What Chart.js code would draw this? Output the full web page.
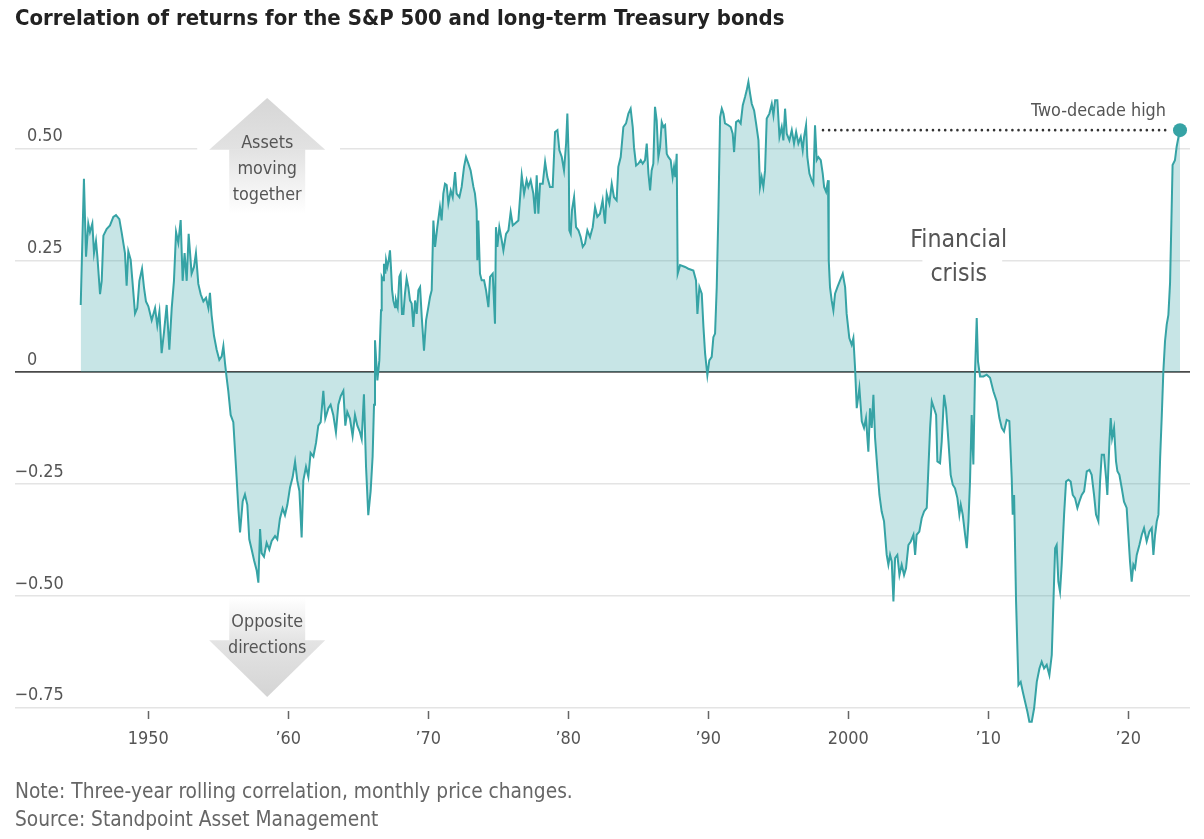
<!DOCTYPE html>
<html>
<head>
<meta charset="utf-8">
<script src="https://cdn.jsdelivr.net/npm/chart.js@4.4.1/dist/chart.umd.min.js"></script>
<style>
html,body{margin:0;padding:0;background:#fff;}
#wrap{width:1204px;height:839px;position:relative;}
</style>
</head>
<body>
<div id="wrap"><canvas id="c" width="1204" height="839"></canvas></div>
<script>
// ---------- DATA (three-year rolling correlation) ----------
const yearsA = [
1945.18,1945.41,1945.56,1945.72,1945.84,1946.01,1946.13,1946.27,1946.37,1946.56,
1946.68,1946.80,1947.03,1947.27,1947.51,1947.70,1947.94,1948.10,1948.34,1948.46,
1948.58,1948.75,1948.89,1949.06,1949.22,1949.37,1949.56,1949.70,1949.84,1950.01,
1950.25,1950.49,1950.65,1950.80,1950.96,1951.13,1951.32,1951.51,1951.68,1951.84,
1951.99,1952.15,1952.32,1952.46,1952.60,1952.75,1952.89,1953.10,1953.27,1953.41,
1953.58,1953.75,1953.94,1954.13,1954.30,1954.41,1954.53,1954.70,1954.89,1955.08,
1955.25,1955.37,1955.49,1955.60,1955.72,1955.89,1956.08,1956.27,1956.44,1956.56,
1956.75,1956.91,1957.08,1957.22,1957.39,1957.56,1957.75,1957.87,1957.99,1958.10,
1958.27,1958.46,1958.65,1958.82,1959.06,1959.22,1959.41,1959.60,1959.77,1959.94,
1960.13,1960.32,1960.49,1960.65,1960.80,1960.96,1961.08,1961.27,1961.44,1961.60,
1961.80,1961.99,1962.15,1962.32,1962.51,1962.65,1962.87,1963.03,1963.22,1963.41,
1963.58,1963.75,1963.94,1964.08,1964.22,1964.41,1964.60,1964.77,1964.94,1965.13,
1965.25,1965.41,1965.56,1965.72,1965.89,1966.03,1966.13];
const corrA = [
0.150,0.432,0.258,0.332,0.313,0.332,0.266,0.293,0.258,0.174,
0.204,0.305,0.320,0.328,0.347,0.351,0.342,0.313,0.266,0.193,
0.270,0.251,0.197,0.131,0.143,0.204,0.231,0.189,0.158,0.147,
0.116,0.143,0.104,0.135,0.042,0.089,0.150,0.050,0.143,0.204,
0.313,0.289,0.340,0.204,0.266,0.204,0.309,0.220,0.235,0.266,
0.197,0.174,0.158,0.166,0.143,0.177,0.127,0.081,0.050,0.027,
0.035,0.058,0.019,-0.012,-0.042,-0.096,-0.112,-0.212,-0.305,-0.359,
-0.289,-0.274,-0.297,-0.374,-0.397,-0.421,-0.444,-0.471,-0.351,-0.405,
-0.413,-0.382,-0.397,-0.378,-0.367,-0.374,-0.328,-0.305,-0.320,-0.297,
-0.258,-0.235,-0.201,-0.243,-0.266,-0.370,-0.243,-0.212,-0.235,-0.181,
-0.189,-0.158,-0.120,-0.112,-0.042,-0.104,-0.081,-0.073,-0.096,-0.135,
-0.073,-0.054,-0.042,-0.120,-0.089,-0.104,-0.143,-0.096,-0.120,-0.135,
-0.150,-0.050,-0.212,-0.320,-0.266,-0.189,-0.073];

const yearsB = [
1966.20,1966.37,1966.51,1966.63,1966.68,1966.80,1966.84,1966.94,1966.99,1967.08,
1967.18,1967.27,1967.34,1967.42,1967.51,1967.63,1967.70,1967.82,1967.94,1968.03,
1968.13,1968.23,1968.34,1968.46,1968.58,1968.70,1968.82,1968.94,1969.06,1969.18,
1969.30,1969.42,1969.54,1969.70,1969.85,1970.01,1970.13,1970.25,1970.37,1970.49,
1970.65,1970.84,1970.96,1971.08,1971.20,1971.32,1971.44,1971.61,1971.75,1971.92,
1972.03,1972.23,1972.39,1972.56,1972.70,1972.87,1973.03,1973.23,1973.34,1973.46,
1973.51,1973.58,1973.70,1973.82,1973.99,1974.13,1974.30,1974.42,1974.61,1974.77,
1974.84,1974.94,1975.08,1975.25,1975.37,1975.56,1975.73,1975.89,1976.04,1976.20,
1976.44,1976.68,1976.85,1977.03,1977.15,1977.32,1977.51,1977.63,1977.75,1977.87,
1977.99,1978.18,1978.35,1978.51,1978.70,1978.89,1979.06,1979.23,1979.37,1979.54,
1979.70,1979.85,1979.94,1980.04,1980.08,1980.18,1980.27,1980.42,1980.56,1980.73,
1980.89,1981.04,1981.20,1981.37,1981.56,1981.75,1981.92,1982.08,1982.27,1982.46,
1982.63,1982.75,1982.94,1983.11,1983.27,1983.46,1983.58,1983.75,1983.94,1984.13,
1984.30,1984.46,1984.61,1984.70,1984.85,1985.01,1985.18,1985.32,1985.49,1985.61,
1985.73,1985.85,1985.96,1986.08,1986.20,1986.32,1986.44,1986.56,1986.68,1986.80,
1986.92,1987.04,1987.15,1987.32,1987.46,1987.56,1987.65,1987.75,1987.82];
const corrB = [
0.071,-0.019,0.026,0.138,0.213,0.205,0.242,0.220,0.250,0.235,
0.250,0.272,0.235,0.183,0.160,0.145,0.160,0.145,0.213,0.220,
0.130,0.130,0.175,0.209,0.190,0.160,0.153,0.101,0.160,0.130,
0.183,0.190,0.123,0.048,0.116,0.145,0.168,0.183,0.339,0.280,
0.324,0.369,0.339,0.399,0.421,0.418,0.377,0.406,0.391,0.447,
0.399,0.391,0.414,0.459,0.481,0.466,0.451,0.414,0.399,0.362,
0.250,0.339,0.220,0.205,0.205,0.183,0.145,0.213,0.220,0.108,
0.324,0.280,0.324,0.295,0.272,0.309,0.317,0.358,0.328,0.332,
0.339,0.440,0.399,0.429,0.414,0.429,0.399,0.354,0.440,0.354,
0.421,0.421,0.470,0.436,0.414,0.414,0.537,0.541,0.496,0.481,
0.451,0.511,0.578,0.474,0.317,0.309,0.362,0.391,0.324,0.317,
0.302,0.280,0.287,0.317,0.302,0.324,0.369,0.347,0.354,0.384,
0.332,0.399,0.377,0.421,0.391,0.384,0.459,0.481,0.548,0.556,
0.578,0.589,0.548,0.503,0.462,0.466,0.474,0.466,0.474,0.511,
0.444,0.406,0.451,0.466,0.593,0.563,0.481,0.503,0.559,0.548,
0.552,0.488,0.481,0.474,0.436,0.459,0.436,0.488,0.220];

const yearsC = [
1987.99,1988.35,1988.58,1988.94,1989.13,1989.23,1989.37,1989.54,1989.66,1989.78,
1989.94,1990.08,1990.25,1990.37,1990.49,1990.61,1990.73,1990.85,1990.97,1991.09,
1991.20,1991.44,1991.61,1991.75,1991.85,1991.99,1992.16,1992.32,1992.47,1992.63,
1992.75,1992.87,1992.99,1993.11,1993.28,1993.42,1993.59,1993.70,1993.82,1993.94,
1994.06,1994.18,1994.37,1994.54,1994.66,1994.78,1994.94,1995.09,1995.25,1995.37,
1995.49,1995.61,1995.80,1995.97,1996.13,1996.28,1996.44,1996.61,1996.75,1996.85,
1996.99,1997.08,1997.23,1997.39,1997.51,1997.63,1997.75,1997.87,1998.04,1998.18,
1998.28,1998.42,1998.56,1998.61,1998.70,1998.82,1998.94,1999.06,1999.23,1999.42,
1999.61,1999.78,1999.89];
const corrC = [
0.239,0.235,0.231,0.227,0.205,0.130,0.190,0.175,0.101,0.041,
-0.007,0.026,0.034,0.078,0.086,0.190,0.362,0.570,0.589,0.578,
0.556,0.552,0.548,0.533,0.492,0.559,0.563,0.556,0.597,0.615,
0.630,0.649,0.623,0.600,0.585,0.556,0.518,0.414,0.436,0.414,
0.451,0.567,0.578,0.600,0.574,0.608,0.608,0.526,0.548,0.518,
0.589,0.533,0.518,0.541,0.511,0.537,0.511,0.526,0.496,0.526,
0.552,0.481,0.444,0.429,0.421,0.552,0.474,0.481,0.474,0.444,
0.414,0.403,0.429,0.250,0.190,0.160,0.138,0.175,0.190,0.205,
0.220,0.190,0.130];

const yearsD = [
2000.08,2000.25,2000.37,2000.49,2000.61,2000.80,2000.97,2001.13,2001.27,2001.44,
2001.56,2001.68,2001.80,2001.92,2002.08,2002.23,2002.39,2002.56,2002.75,2002.87,
2002.99,2003.11,2003.23,2003.35,2003.51,2003.66,2003.82,2003.99,2004.13,2004.30,
2004.47,2004.66,2004.78,2004.89,2005.08,2005.25,2005.42,2005.61,2005.73,2005.85,
2005.97,2006.13,2006.28,2006.37,2006.56,2006.68,2006.85,2006.99,2007.16,2007.32,
2007.47,2007.63,2007.80,2007.94,2008.04,2008.18,2008.35,2008.47,2008.59,2008.70,
2008.82,2008.94,2009.06,2009.18,2009.27,2009.42,2009.66,2009.89,2010.13,2010.37,
2010.61,2010.80,2010.97,2011.13,2011.32,2011.51,2011.68,2011.75,2011.85,2011.99,
2012.16,2012.32,2012.47,2012.63,2012.80,2012.94,2013.11,2013.28,2013.47,2013.66,
2013.82,2013.99,2014.18,2014.37,2014.54,2014.66,2014.78,2014.89,2015.01,2015.13,
2015.25,2015.42,2015.56,2015.73,2015.89,2016.04,2016.20,2016.37,2016.51,2016.68,
2016.85,2017.04,2017.23,2017.39,2017.56,2017.70,2017.87,2017.99,2018.11,2018.27,
2018.42,2018.51,2018.66,2018.75,2018.85,2018.99,2019.13,2019.23,2019.37,2019.54,
2019.70,2019.89,2020.01,2020.13,2020.25,2020.37,2020.49,2020.61,2020.80,2020.97,
2021.13,2021.32,2021.51,2021.68,2021.80,2021.92,2022.04,2022.16,2022.28,2022.40,
2022.51,2022.63,2022.75,2022.87,2022.99,2023.08,2023.17,2023.34,2023.46,2023.62,
2023.70];
const corrD = [
0.076,0.061,0.076,0.009,-0.081,-0.036,-0.110,-0.125,-0.103,-0.178,
-0.081,-0.125,-0.051,-0.148,-0.215,-0.275,-0.312,-0.334,-0.409,-0.431,
-0.409,-0.424,-0.513,-0.416,-0.409,-0.454,-0.431,-0.454,-0.439,-0.387,
-0.379,-0.364,-0.409,-0.364,-0.357,-0.327,-0.312,-0.304,-0.215,-0.125,
-0.066,-0.081,-0.096,-0.200,-0.204,-0.155,-0.051,-0.081,-0.155,-0.230,
-0.252,-0.260,-0.282,-0.319,-0.297,-0.319,-0.364,-0.394,-0.334,-0.245,
-0.096,-0.207,0.001,0.121,0.024,-0.010,-0.010,-0.006,-0.013,-0.043,
-0.066,-0.103,-0.125,-0.133,-0.107,-0.110,-0.237,-0.319,-0.275,-0.513,
-0.700,-0.693,-0.715,-0.737,-0.760,-0.782,-0.782,-0.752,-0.693,-0.663,
-0.648,-0.663,-0.655,-0.678,-0.633,-0.513,-0.394,-0.387,-0.469,-0.491,
-0.431,-0.319,-0.245,-0.241,-0.245,-0.275,-0.282,-0.304,-0.290,-0.275,
-0.267,-0.222,-0.219,-0.230,-0.275,-0.319,-0.334,-0.245,-0.185,-0.185,
-0.237,-0.275,-0.155,-0.103,-0.148,-0.125,-0.200,-0.222,-0.230,-0.260,
-0.290,-0.304,-0.364,-0.424,-0.469,-0.431,-0.439,-0.409,-0.387,-0.364,
-0.349,-0.379,-0.357,-0.349,-0.409,-0.364,-0.334,-0.319,-0.193,-0.096,
0.001,0.069,0.106,0.128,0.200,0.330,0.463,0.474,0.504,0.530,
0.541];

// latest reading and the earlier level it matches ("two-decade high")
const highValue = 0.541;
const highLineFrom = 1998.2;
const highLineTo = 2023.05;
const latestYear = 2023.70;

// axes
const xTickValues = [1950, 1960, 1970, 1980, 1990, 2000, 2010, 2020];
const xTickLabels = ['1950', '\u201960', '\u201970', '\u201980', '\u201990', '2000', '\u201910', '\u201920'];
const yTickValues = [0.5, 0.25, 0, -0.25, -0.5, -0.75];
const yTickLabels = ['0.50', '0.25', '0', '\u22120.25', '\u22120.50', '\u22120.75'];

// texts
const titleText = 'Correlation of returns for the S&P 500 and long-term Treasury bonds';
const noteText = 'Note: Three-year rolling correlation, monthly price changes.';
const sourceText = 'Source: Standpoint Asset Management';
const upLabel = ['Assets', 'moving', 'together'];
const downLabel = ['Opposite', 'directions'];
const crisisLabel = ['Financial', 'crisis'];
const highLabel = 'Two-decade high';

// ---------- fonts ----------
const mc = document.createElement('canvas').getContext('2d');
function hasFont(name) {
  const t = 'abcdefghijklmnopqrstuvwxyz0123456789';
  mc.font = '40px monospace'; const w0 = mc.measureText(t).width;
  mc.font = '40px "' + name + '", monospace'; const w1 = mc.measureText(t).width;
  return Math.abs(w1 - w0) > 0.5;
}
const fontName = ['Liberation Sans Narrow', 'DejaVu Sans Condensed', 'Liberation Sans', 'DejaVu Sans'].find(hasFont) || 'sans-serif';
const FONT = '"' + fontName + '", sans-serif';
function fitSize(text, width, weight) {
  mc.font = (weight || 'normal') + ' 100px ' + FONT;
  return 100 * width / mc.measureText(text).width;
}
const tickSize = fitSize('1950', 41);
const titleSize = fitSize(titleText, 770, 'bold');
const noteSize = fitSize(noteText, 558);
const arrowTextSize = fitSize('together', 69);
const crisisSize = fitSize('Financial', 97);
const highSize = fitSize(highLabel, 135);

// ---------- data assembly ----------
const years = yearsA.concat(yearsB, yearsC, yearsD);
const corr = corrA.concat(corrB, corrC, corrD);
const mainPoints = years.map((x, i) => ({x: x, y: corr[i]}));

const TEAL = '#36a3a5';

function txt(ctx, s, x, y, size, color, align, weight, baseline) {
  ctx.font = (weight || 'normal') + ' ' + size + 'px ' + FONT;
  ctx.fillStyle = color;
  ctx.textAlign = align || 'left';
  ctx.textBaseline = baseline || 'middle';
  ctx.fillText(s, x, y);
}

const decor = {
  id: 'decor',
  beforeDatasetsDraw(chart) {
    const {ctx, scales: {x, y}} = chart;
    ctx.save();
    // white halos that interrupt gridlines behind annotations
    ctx.fillStyle = '#ffffff';
    [[0.5, 1953.5, 1963.7], [0.25, 2005.3, 2011.0]].forEach(g => {
      const yy = y.getPixelForValue(g[0]);
      const x0 = x.getPixelForValue(g[1]), x1 = x.getPixelForValue(g[2]);
      ctx.fillRect(x0, yy - 4, x1 - x0, 8);
    });
    // up arrow
    const cx = x.getPixelForValue(1958.5);
    const hw = 58, sw = 38;
    const tipU = y.getPixelForValue(0.613), baseU = y.getPixelForValue(0.497), botU = y.getPixelForValue(0.355);
    let g = ctx.createLinearGradient(0, tipU, 0, baseU);
    g.addColorStop(0, '#d6d6d6'); g.addColorStop(1, '#e2e2e2');
    ctx.fillStyle = g;
    ctx.beginPath(); ctx.moveTo(cx, tipU); ctx.lineTo(cx + hw, baseU); ctx.lineTo(cx - hw, baseU); ctx.closePath(); ctx.fill();
    g = ctx.createLinearGradient(0, baseU, 0, botU);
    g.addColorStop(0, '#e2e2e2'); g.addColorStop(1, 'rgba(255,255,255,1)');
    ctx.fillStyle = g;
    ctx.fillRect(cx - sw, baseU - 0.5, sw * 2, botU - baseU);
    // down arrow
    const topD = y.getPixelForValue(-0.505), baseD = y.getPixelForValue(-0.600), tipD = y.getPixelForValue(-0.727);
    g = ctx.createLinearGradient(0, topD, 0, baseD);
    g.addColorStop(0, 'rgba(255,255,255,1)'); g.addColorStop(1, '#e4e4e4');
    ctx.fillStyle = g;
    ctx.fillRect(cx - sw, topD, sw * 2, baseD - topD + 0.5);
    g = ctx.createLinearGradient(0, baseD, 0, tipD);
    g.addColorStop(0, '#e4e4e4'); g.addColorStop(1, '#d4d4d4');
    ctx.fillStyle = g;
    ctx.beginPath(); ctx.moveTo(cx - hw, baseD); ctx.lineTo(cx + hw, baseD); ctx.lineTo(cx, tipD); ctx.closePath(); ctx.fill();
    ctx.restore();
  },
  afterDraw(chart) {
    const {ctx, scales: {x, y}, chartArea} = chart;
    ctx.save();
    // title + notes
    txt(ctx, titleText, 15, 19, titleSize, '#222222', 'left', 'bold');
    txt(ctx, noteText, 15, 793, noteSize, '#666666', 'left');
    txt(ctx, sourceText, 15, 821, noteSize, '#666666', 'left');
    // y tick labels, sitting above their gridlines with a hanging minus
    ctx.font = tickSize + 'px ' + FONT;
    const minusW = ctx.measureText('\u2212').width;
    yTickValues.forEach((v, i) => {
      const lab = yTickLabels[i];
      const yy = y.getPixelForValue(v) - 7;
      let x0 = chartArea.left + 12;
      if (lab.charAt(0) === '\u2212') x0 -= minusW - 1;
      txt(ctx, lab, x0, yy, tickSize, '#555555', 'left', 'normal', 'alphabetic');
    });
    // arrow labels
    const cx = x.getPixelForValue(1958.5);
    [0.512, 0.454, 0.394].forEach((v, i) => txt(ctx, upLabel[i], cx, y.getPixelForValue(v), arrowTextSize, '#555555', 'center'));
    [-0.559, -0.617].forEach((v, i) => txt(ctx, downLabel[i], cx, y.getPixelForValue(v), arrowTextSize, '#555555', 'center'));
    // financial crisis
    const fx = x.getPixelForValue(2007.9);
    [0.293, 0.219].forEach((v, i) => txt(ctx, crisisLabel[i], fx, y.getPixelForValue(v), crisisSize, '#555555', 'center'));
    // two-decade high
    txt(ctx, highLabel, x.getPixelForValue(2022.7), y.getPixelForValue(0.583), highSize, '#555555', 'right');
    ctx.restore();
  }
};

new Chart(document.getElementById('c'), {
  type: 'line',
  data: {
    datasets: [
      {
        label: 'Latest',
        data: [{x: latestYear, y: highValue}],
        showLine: false,
        pointRadius: 7,
        pointHoverRadius: 7,
        pointBackgroundColor: TEAL,
        pointBorderColor: TEAL,
        pointBorderWidth: 0,
        order: 0
      },
      {
        label: 'Correlation',
        data: mainPoints,
        borderColor: TEAL,
        borderWidth: 2,
        backgroundColor: 'rgba(54,163,165,0.28)',
        fill: 'origin',
        pointRadius: 0,
        tension: 0,
        order: 1
      },
      {
        label: 'Two-decade high',
        data: [{x: highLineFrom, y: highValue}, {x: highLineTo, y: highValue}],
        borderColor: '#333333',
        borderWidth: 2.6,
        borderDash: [0.01, 6.1],
        borderCapStyle: 'round',
        pointRadius: 0,
        fill: false,
        order: 2
      }
    ]
  },
  options: {
    responsive: false,
    animation: false,
    devicePixelRatio: 1,
    layout: {padding: {left: 15, right: 14, top: 68, bottom: 116}},
    plugins: {legend: {display: false}, tooltip: {enabled: false}, title: {display: false}},
    scales: {
      x: {
        type: 'linear',
        min: 1940.486,
        max: 2024.414,
        position: {y: -0.759},
        afterBuildTicks: s => { s.ticks = xTickValues.map(v => ({value: v})); },
        grid: {display: true, drawOnChartArea: false, drawTicks: true, tickLength: 8, tickColor: '#666666', tickWidth: 1.5},
        border: {display: false},
        ticks: {
          autoSkip: false, maxRotation: 0, padding: 9,
          color: '#555555',
          font: {family: FONT, size: tickSize},
          callback: (v, i) => xTickLabels[i]
        }
      },
      y: {
        type: 'linear',
        min: -0.785,
        max: 0.68,
        afterBuildTicks: s => { s.ticks = yTickValues.map(v => ({value: v})); },
        grid: {
          drawTicks: false,
          color: c => (c.tick && c.tick.value === 0) ? '#4a4a4a' : '#e4e4e4',
          lineWidth: c => (c.tick && c.tick.value === 0) ? 1.7 : 1.5
        },
        border: {display: false},
        ticks: {display: false}
      }
    }
  },
  plugins: [decor]
});
</script>
</body>
</html>
